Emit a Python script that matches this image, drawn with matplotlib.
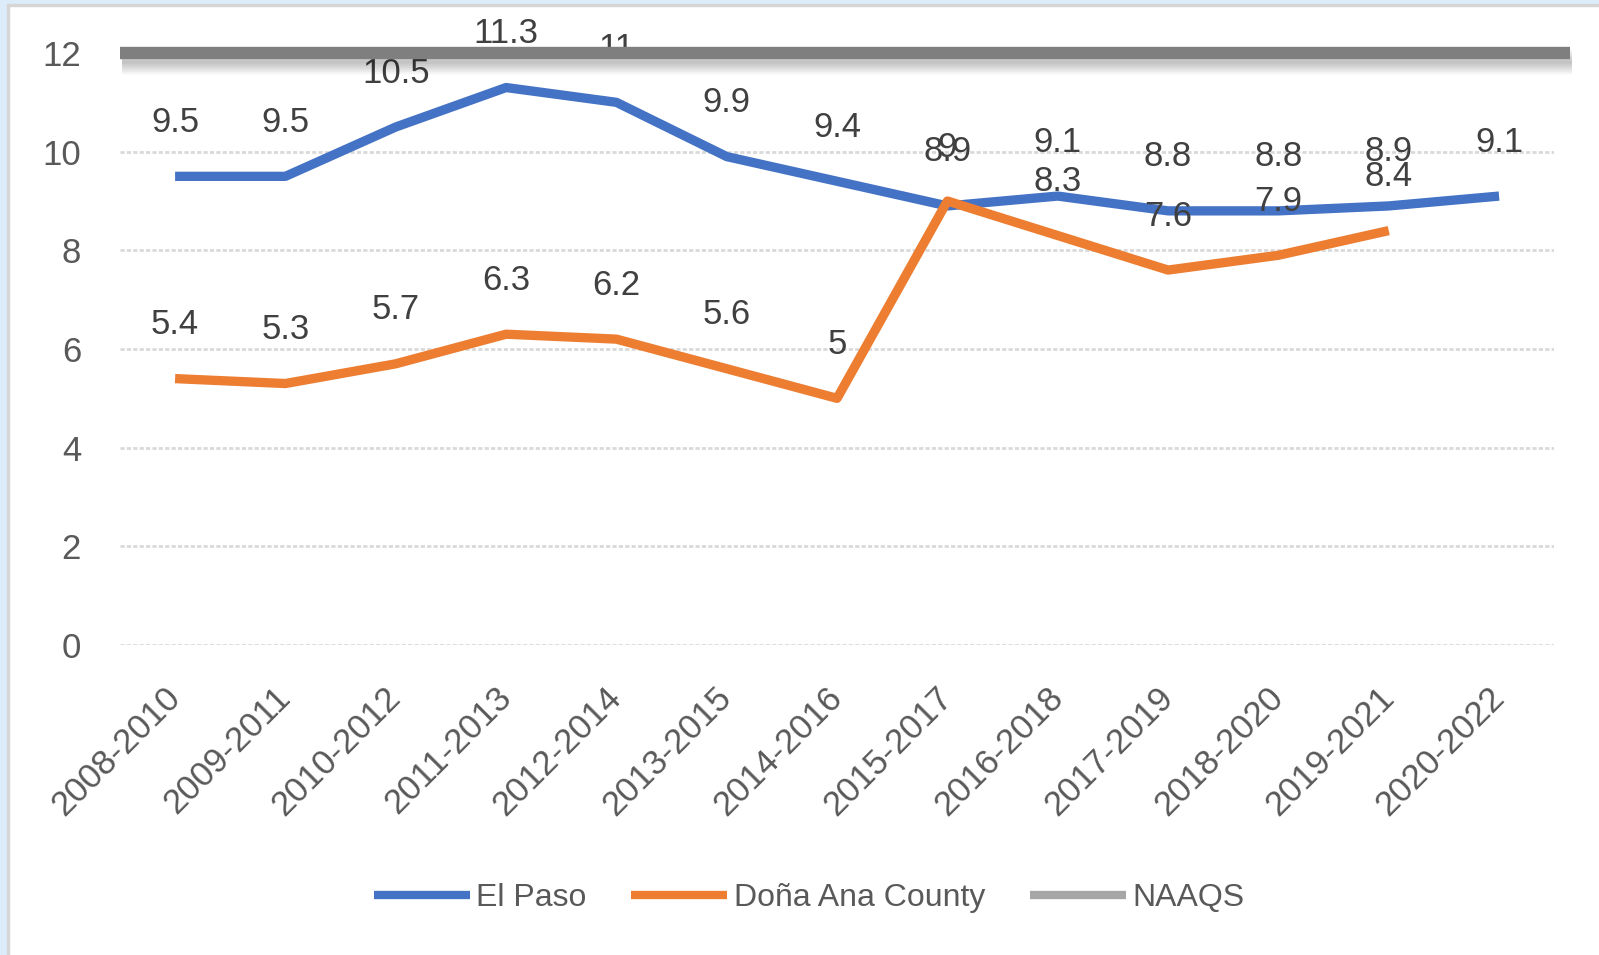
import matplotlib
matplotlib.use("Agg")
import matplotlib.pyplot as plt
import matplotlib.patheffects as pe
from matplotlib.patches import Rectangle

periods = ["2008-2010", "2009-2011", "2010-2012", "2011-2013", "2012-2014",
           "2013-2015", "2014-2016", "2015-2017", "2016-2018", "2017-2019",
           "2018-2020", "2019-2021", "2020-2022"]
el_paso = [9.5, 9.5, 10.5, 11.3, 11, 9.9, 9.4, 8.9, 9.1, 8.8, 8.8, 8.9, 9.1]
dona_ana = [5.4, 5.3, 5.7, 6.3, 6.2, 5.6, 5, 9, 8.3, 7.6, 7.9, 8.4]
naaqs = 12
yticks = [0, 2, 4, 6, 8, 10, 12]

plt.rcParams['font.family'] = ['Liberation Sans', 'DejaVu Sans']

fig = plt.figure(figsize=(15.99, 9.55), dpi=100)
ax = fig.add_axes([0.075, 0.3246, 0.897, 0.6199])

# window-like frame on left/top
fig.patches.append(Rectangle((0, 0), 7 / 1599, 1, transform=fig.transFigure,
                             color="#dcecfa", zorder=-5))
fig.patches.append(Rectangle((0, 1 - 4 / 955), 1, 4 / 955, transform=fig.transFigure,
                             color="#dcecfa", zorder=-5))
fig.patches.append(Rectangle((7 / 1599, 0), 2 / 1599, 1 - 4 / 955, transform=fig.transFigure,
                             color="#d6d6d6", zorder=-4))
fig.patches.append(Rectangle((7 / 1599, 1 - 6 / 955), 1, 2 / 955, transform=fig.transFigure,
                             color="#d6d6d6", zorder=-4))

x = list(range(len(periods)))
ax.plot(x, el_paso, color="#4472c4", lw=6.7, solid_joinstyle="round",
        solid_capstyle="butt", label="El Paso", zorder=3)
ax.plot(x[:len(dona_ana)], dona_ana, color="#ed7d31", lw=6.7, solid_joinstyle="round",
        solid_capstyle="butt", label="Doña Ana County", zorder=3)

shadow = [pe.SimpleLineShadow(offset=(1.5, -2 - i * 1.5), shadow_color="k", alpha=0.04)
          for i in range(7)]
ax.axhline(naaqs, xmin=0, xmax=1.011, color="#7f7f7f", lw=8.9, clip_on=False,
           solid_capstyle="butt", label="NAAQS", zorder=5,
           path_effects=shadow + [pe.Normal()])

for series in (el_paso, dona_ana):
    for i, v in enumerate(series):
        ax.annotate(f"{v:g}", (i, v), xytext=(0, 32), textcoords="offset points",
                    ha="center", va="baseline", fontsize=25, color="#404040", zorder=4)

ax.set_xlim(-0.5, len(periods) - 0.5)
ax.set_ylim(0, 12)
ax.set_yticks(yticks)
ax.set_xticks(x)
ax.set_xticklabels(periods, rotation=45, ha="right", va="center",
                   rotation_mode="anchor")
ax.tick_params(axis="y", length=0, pad=28, labelsize=25, labelcolor="#595959")
ax.tick_params(axis="x", length=0, pad=34, labelsize=25, labelcolor="#595959")
ax.grid(axis="y", color="#d9d9d9", lw=2, ls=(0, (1.5, 0.8)))
ax.set_axisbelow(True)
for s in ax.spines.values():
    s.set_visible(False)

leg = fig.legend(loc="center", bbox_to_anchor=(0.506, 0.06), ncol=3, frameon=False,
                 fontsize=23, handlelength=3.0, handletextpad=0.2, columnspacing=1.4,
                 labelcolor="#595959")
for h in leg.legend_handles:
    h.set_linewidth(6)
    h.set_path_effects([])
leg.legend_handles[2].set_color("#a6a6a6")

fig.savefig("out.png", dpi=100)
